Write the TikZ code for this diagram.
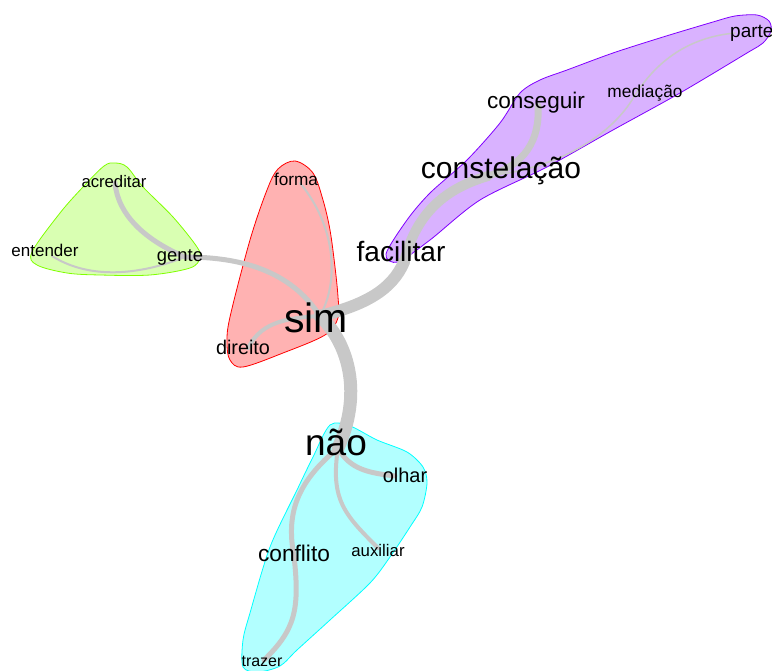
\documentclass[tikz,border=0pt]{standalone}
\usepackage{fontspec}
\setmainfont{Liberation Sans}
\newcommand\myfs[1]{\fontsize{#1}{#1}\selectfont}
\definecolor{edgegray}{RGB}{200,200,200}
\definecolor{gRed}{RGB}{255,0,0}
\definecolor{gGreen}{RGB}{128,255,0}
\definecolor{gCyan}{RGB}{0,255,255}
\definecolor{gPurple}{RGB}{128,0,255}
\tikzset{
  hull/.style={draw=#1, fill=#1!30!white, line width=0.8pt},
  edge/.style={draw=edgegray, line width=#1, line cap=round},
  lbl/.style={inner sep=0pt, text=black, anchor=base},
}
\begin{document}
\begin{tikzpicture}[x=1pt,y=-1pt]
\useasboundingbox (0,0) rectangle (772,671);
% hulls
\path[hull=gGreen] plot[smooth cycle, tension=0.55] coordinates {(115,163) (127,167) (143,187) (173,217) (197,247) (200,258) (190,268) (150,275) (100,275) (67,273) (37,265) (32,252) (60,213) (83,187) (104,166)};
\path[hull=gRed] plot[smooth cycle, tension=0.55] coordinates {(295,161) (313,173) (323,200) (330,230) (335,267) (338,297) (338,318) (325,335) (283,353) (243,367) (230,360) (227,343) (230,317) (250,240) (267,190) (278,169)};
\path[hull=gPurple] plot[smooth cycle, tension=0.5] coordinates {(386,254) (407,220) (430,193) (467,160) (500,123) (520,93) (540,80) (567,70) (613,53) (663,37) (713,22) (735,16) (757,15) (769,21) (771,31) (763,43) (747,53) (680,93) (613,130) (547,167) (480,200) (430,240) (398,262)};
\path[hull=gCyan] plot[smooth cycle, tension=0.5] coordinates {(330,425) (350,426) (377,440) (407,452) (423,467) (427,483) (422,507) (410,527) (390,557) (370,583) (330,620) (297,650) (280,666) (258,672) (243,667) (243,640) (250,613) (270,547) (297,490) (313,457)};
% vertices
\coordinate (vsim) at (320,316);
\coordinate (vnao) at (338,448);
\coordinate (vfac) at (404,262);
\coordinate (vcon) at (488,176);
\coordinate (vcsg) at (538,106);
\coordinate (vmed) at (632,100);
\coordinate (vpar) at (735,33);
\coordinate (vgen) at (185,257);
\coordinate (vacr) at (115,183);
\coordinate (vent) at (52,256);
\coordinate (vfor) at (300,183);
\coordinate (vdir) at (248,348);
\coordinate (volh) at (395,476);
\coordinate (vaux) at (378,548);
\coordinate (vcnf) at (294,556);
\coordinate (vtra) at (264,660);
% edges
\draw[edge=13pt] (vsim) .. controls (350,345) and (362,395) .. (vnao);
\draw[edge=12pt] (vsim) .. controls (365,305) and (392,290) .. (vfac);
\draw[edge=10pt] (vfac) .. controls (415,218) and (440,190) .. (vcon);
\draw[edge=7pt] (vcon) .. controls (525,165) and (540,140) .. (vcsg);
\draw[edge=1.5pt] (vcon) .. controls (560,168) and (610,135) .. (vmed);
\draw[edge=1.5pt] (vmed) .. controls (650,70) and (680,38) .. (vpar);
\draw[edge=5pt] (vgen) .. controls (240,257) and (290,270) .. (vsim);
\draw[edge=5pt] (vacr) .. controls (118,215) and (145,240) .. (vgen);
\draw[edge=2pt] (vent) .. controls (90,280) and (140,275) .. (vgen);
\draw[edge=2pt] (vfor) .. controls (335,225) and (340,280) .. (vsim);
\draw[edge=4pt] (vdir) .. controls (260,325) and (280,318) .. (vsim);
\draw[edge=5pt] (vnao) .. controls (350,470) and (370,473) .. (volh);
\draw[edge=4pt] (vnao) .. controls (330,500) and (345,515) .. (vaux);
\draw[edge=5pt] (vnao) .. controls (300,480) and (285,510) .. (vcnf);
\draw[edge=5pt] (vcnf) .. controls (300,610) and (295,630) .. (vtra);
% labels
\node[lbl, font=\myfs{41}] (sim) at (316,333) {sim};
\node[lbl, font=\myfs{37}] (nao) at (336,455) {não};
\node[lbl, font=\myfs{28}] (facilitar) at (401,262) {facilitar};
\node[lbl, font=\myfs{30}] (constelacao) at (501,179) {constelação};
\node[lbl, font=\myfs{22.6}] (conseguir) at (536,109) {conseguir};
\node[lbl, font=\myfs{17.3}] (mediacao) at (645,98) {mediação};
\node[lbl, font=\myfs{19}, anchor=base west] (parte) at (730,38) {parte};
\node[lbl, font=\myfs{18.4}] (gente) at (180,262) {gente};
\node[lbl, font=\myfs{16.7}] (acreditar) at (114,188) {acreditar};
\node[lbl, font=\myfs{17}] (entender) at (45,257) {entender};
\node[lbl, font=\myfs{17.2}] (forma) at (296,186) {forma};
\node[lbl, font=\myfs{19.8}] (direito) at (243,355) {direito};
\node[lbl, font=\myfs{20}] (olhar) at (405,482) {olhar};
\node[lbl, font=\myfs{16.8}] (auxiliar) at (378,556) {auxiliar};
\node[lbl, font=\myfs{22.7}] (conflito) at (294,561) {conflito};
\node[lbl, font=\myfs{16}] (trazer) at (262,666) {trazer};
\end{tikzpicture}
\end{document}
